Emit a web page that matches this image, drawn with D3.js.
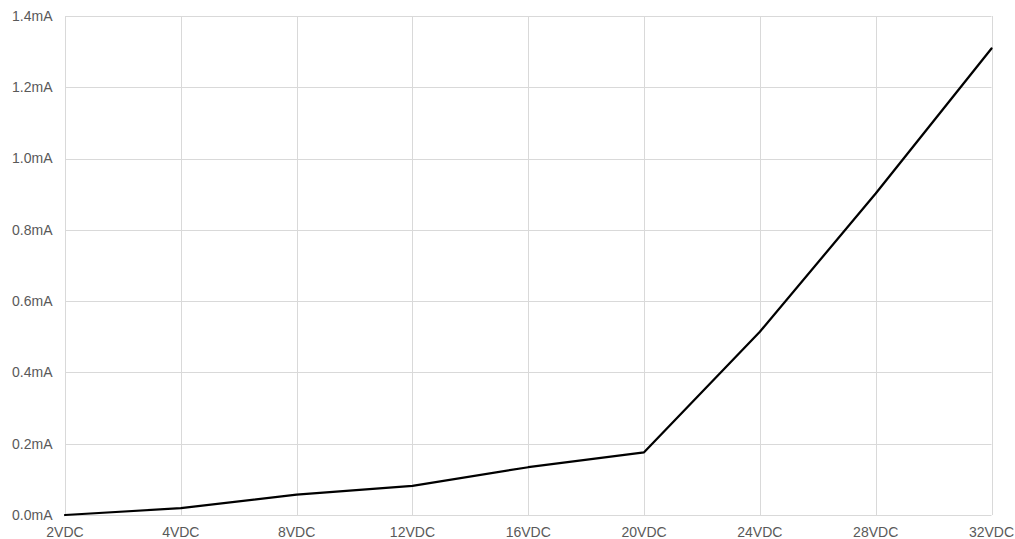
<!DOCTYPE html>
<html><head><meta charset="utf-8">
<script src="https://cdn.jsdelivr.net/npm/d3@7"></script>
<style>body{margin:0;background:#fff}svg{display:block}text{font-family:"Liberation Sans",Arial,sans-serif}</style>
</head><body>
<svg id="c" width="1015" height="539"></svg>
<script>
const categories = ["2VDC","4VDC","8VDC","12VDC","16VDC","20VDC","24VDC","28VDC","32VDC"];
const currentMA = [0, 0.019, 0.057, 0.082, 0.134, 0.176, 0.514, 0.902, 1.309];
const yTicks = [0, 0.2, 0.4, 0.6, 0.8, 1.0, 1.2, 1.4];

(function () {
const svg = d3.select("#c");
const pLeft = 65, pRight = 991.5, pTop = 16, pBottom = 515;
const x = d3.scalePoint().domain(categories).range([pLeft, pRight]);
const y = d3.scaleLinear().domain([0, 1.4]).range([pBottom, pTop]);

const grid = svg.append("g");
grid.selectAll("line.h").data(yTicks).enter().append("line")
  .attr("x1", pLeft).attr("x2", pRight)
  .attr("y1", d => Math.round(y(d)) + 0.5).attr("y2", d => Math.round(y(d)) + 0.5)
  .attr("stroke", "#d9d9d9").attr("stroke-width", 1);
grid.selectAll("line.v").data(categories).enter().append("line")
  .attr("x1", d => Math.round(x(d)) + 0.5).attr("x2", d => Math.round(x(d)) + 0.5)
  .attr("y1", pTop).attr("y2", pBottom)
  .attr("stroke", "#d9d9d9").attr("stroke-width", 1);

svg.append("g").selectAll("text").data(yTicks).enter().append("text")
  .attr("x", 52.5).attr("y", d => y(d)).attr("dy", "0.35em")
  .attr("text-anchor", "end").attr("font-size", 14).attr("fill", "#595959")
  .text(d => d.toFixed(1) + "mA");

svg.append("g").selectAll("text").data(categories).enter().append("text")
  .attr("x", d => x(d)).attr("y", 532).attr("dy", "0.35em")
  .attr("text-anchor", "middle").attr("font-size", 14).attr("fill", "#595959")
  .text(d => d);

const line = d3.line().x((d, i) => x(categories[i])).y(d => y(d));
svg.append("path").datum(currentMA).attr("d", line)
  .attr("fill", "none").attr("stroke", "#000").attr("stroke-width", 2.25)
  .attr("stroke-linejoin", "round").attr("stroke-linecap", "round");
})();
</script>
</body></html>
